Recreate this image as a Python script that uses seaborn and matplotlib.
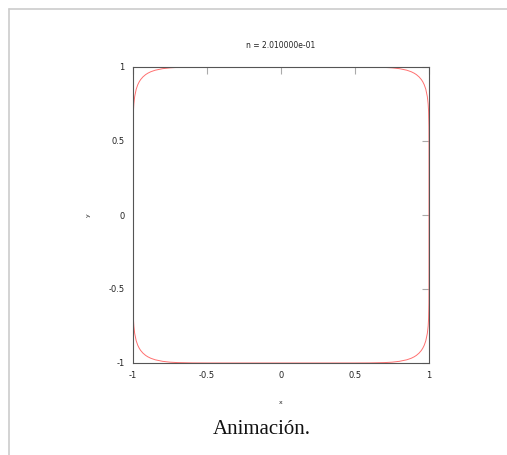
import numpy as np
import pandas as pd
import seaborn as sns
import matplotlib.pyplot as plt
from matplotlib.lines import Line2D

sns.set_style("white")
plt.rcParams['font.family'] = ['DejaVu Sans']

title = "n = 2.010000e-01"
caption = "Animación."
ticks = [-1, -0.5, 0, 0.5, 1]
tick_labels = ["-1", "-0.5", "0", "0.5", "1"]

# first quadrant of the curve, from (0, 1) to (1, 0)
arc_x = [0.0, 0.3, 0.5, 0.6, 0.7, 0.75, 0.8, 0.85, 0.88, 0.9, 0.915, 0.933,
         0.9484, 0.958, 0.9679, 0.9783, 0.9887, 0.9944, 0.9972, 0.9994, 0.9999, 1.0, 1.0]
arc_y = [1.0, 1.0, 0.9999, 0.9994, 0.9972, 0.9944, 0.9887, 0.9783, 0.9679, 0.958, 0.9484, 0.933,
         0.915, 0.9, 0.88, 0.85, 0.8, 0.75, 0.7, 0.6, 0.5, 0.3, 0.0]

# the other quadrants by symmetry, walked round in order
qx = np.array(arc_x)
qy = np.array(arc_y)
loop_x = np.concatenate([qx, qx[::-1], -qx, -qx[::-1]])
loop_y = np.concatenate([qy, -qy[::-1], -qy, qy[::-1]])
df = pd.DataFrame({"x": loop_x, "y": loop_y, "step": np.arange(len(loop_x))})

fig = plt.figure(figsize=(5.07, 4.55), dpi=100)
ax = fig.add_axes([133 / 507, 1 - 363 / 455, 296 / 507, 296 / 455])

sns.lineplot(data=df, x="x", y="y", sort=False, estimator=None, color="#ff7070",
             linewidth=0.7, ax=ax)

ax.set_xlim(-1, 1)
ax.set_ylim(-1, 1)
ax.set_xticks(ticks)
ax.set_xticklabels(tick_labels)
ax.set_yticks(ticks)
ax.set_yticklabels(tick_labels)
ax.tick_params(direction="in", length=5, width=0.8, color="#aaaaaa", labelsize=6,
               top=True, right=True, pad=6, labelcolor="#222222")
for s in ax.spines.values():
    s.set_color("#555555")
    s.set_linewidth(0.8)
ax.set_xlabel("")
ax.set_ylabel("")

fig.text(281 / 507, 1 - 46 / 455, title, ha="center", va="center", fontsize=5.5, color="#222222")
fig.text(281 / 507, 1 - 402 / 455, "x", ha="center", va="center", fontsize=4.5, color="#222222")
fig.text(88 / 507, 1 - 215 / 455, "y", ha="center", va="center", fontsize=4.5, color="#222222",
         rotation=90)
fig.text(262 / 507, 1 - 430 / 455, caption, ha="center", va="center", fontsize=15,
         family=["Liberation Serif", "DejaVu Serif"], color="#111111")

# thumbnail frame, top and left edges
fig.add_artist(Line2D([8.5 / 507, 1], [1 - 8.5 / 455, 1 - 8.5 / 455], color="#cccccc", lw=1.2))
fig.add_artist(Line2D([8.5 / 507, 8.5 / 507], [0, 1 - 8.5 / 455], color="#cccccc", lw=1.2))

fig.savefig("out.png", dpi=100)
